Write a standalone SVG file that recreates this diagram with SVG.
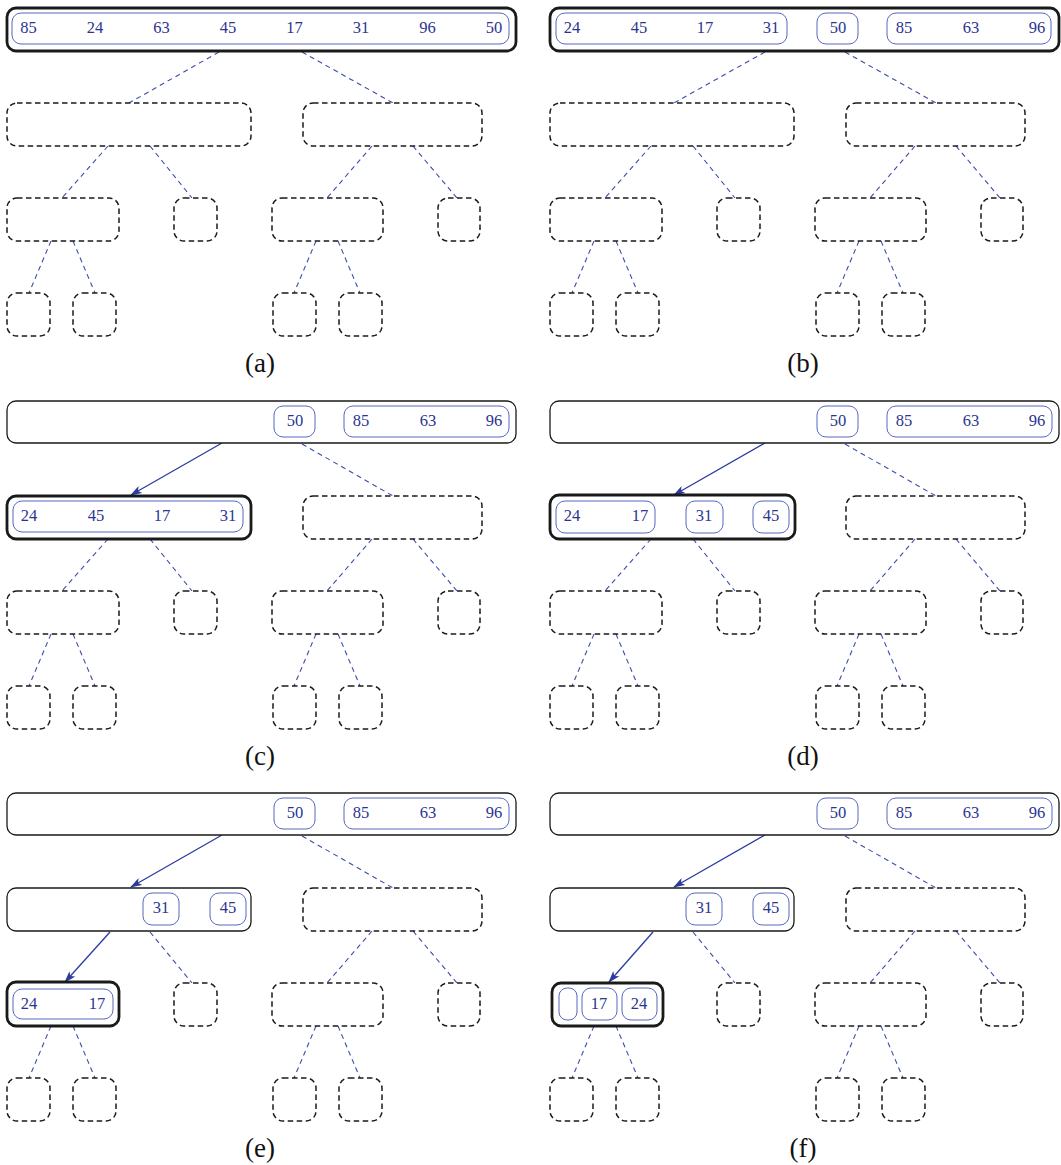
<svg xmlns="http://www.w3.org/2000/svg" width="1061" height="1165" viewBox="0 0 1061 1165">
<style>
.bg{fill:#fff}
.act{fill:#fff;stroke:#1a1a1a;stroke-width:2.8}
.done{fill:#fff;stroke:#1a1a1a;stroke-width:1.3}
.pend{fill:#fff;stroke:#1a1a1a;stroke-width:1.5;stroke-dasharray:5.5 3.5}
.grp{fill:none;stroke:#4455bb;stroke-width:0.9}
.num{font-family:'Liberation Serif','DejaVu Serif',serif;font-size:16.5px;fill:#2b3590;text-anchor:middle}
.lbl{font-family:'Liberation Serif','DejaVu Serif',serif;font-size:27px;fill:#111;text-anchor:middle}
.dl{stroke:#3b4cb0;stroke-width:1.1;stroke-dasharray:5 4;fill:none}
.al{stroke:#2b3a9e;stroke-width:1.3;fill:none;marker-end:url(#ah)}
</style>
<defs>
<marker id="ah" viewBox="0 0 12 8" refX="11" refY="4" markerWidth="12" markerHeight="8" markerUnits="userSpaceOnUse" orient="auto">
<path d="M0,0 L12,4 L0,8 L3,4 Z" fill="#2b3a9e"/>
</marker>
</defs>
<rect class="bg" x="0" y="0" width="1061" height="1165"/>

<!-- Panel (a) -->
<g id="panel-a" transform="translate(0,0)">
<g id="a-connectors">
<line class="dl" x1="219" y1="52" x2="129" y2="103"/>
<line class="dl" x1="302" y1="52" x2="393" y2="103"/>
<line class="dl" x1="108" y1="146" x2="62" y2="198"/>
<line class="dl" x1="150" y1="146" x2="192" y2="198"/>
<line class="dl" x1="372" y1="146" x2="327" y2="198"/>
<line class="dl" x1="413" y1="146" x2="457" y2="198"/>
<line class="dl" x1="51" y1="241" x2="29" y2="293"/>
<line class="dl" x1="73" y1="241" x2="95" y2="293"/>
<line class="dl" x1="316" y1="241" x2="294" y2="293"/>
<line class="dl" x1="338" y1="241" x2="360" y2="293"/>
</g>
<g id="a-root"><rect class="act" x="7" y="8" width="509" height="43" rx="9"/>
<rect class="grp" x="12" y="13" width="497" height="31" rx="9"/>
<text class="num" x="28.5" y="33">85</text><text class="num" x="95" y="33">24</text><text class="num" x="161.5" y="33">63</text><text class="num" x="228" y="33">45</text><text class="num" x="294.5" y="33">17</text><text class="num" x="361" y="33">31</text><text class="num" x="427.5" y="33">96</text><text class="num" x="494" y="33">50</text></g>
<g id="a-l1l"><rect class="pend" x="7" y="103" width="244" height="43" rx="10"/></g>
<g id="a-l1r"><rect class="pend" x="303" y="103" width="179" height="43" rx="10"/></g>
<g id="a-l2a"><rect class="pend" x="7" y="198" width="112" height="43" rx="10"/></g>
<g id="a-l2b"><rect class="pend" x="174" y="198" width="43" height="43" rx="10"/></g>
<g id="a-l2c"><rect class="pend" x="272" y="198" width="111" height="43" rx="10"/></g>
<g id="a-l2d"><rect class="pend" x="438" y="198" width="42" height="43" rx="10"/></g>
<g id="a-l3a"><rect class="pend" x="7" y="293" width="43" height="43" rx="10"/></g>
<g id="a-l3b"><rect class="pend" x="73" y="293" width="43" height="43" rx="10"/></g>
<g id="a-l3c"><rect class="pend" x="273" y="293" width="43" height="43" rx="10"/></g>
<g id="a-l3d"><rect class="pend" x="339" y="293" width="43" height="43" rx="10"/></g>
<text class="lbl" x="260" y="372">(a)</text>
</g>

<!-- Panel (b) -->
<g id="panel-b" transform="translate(543,0)">
<g id="b-connectors">
<line class="dl" x1="222" y1="52" x2="131" y2="103"/>
<line class="dl" x1="302" y1="52" x2="393" y2="103"/>
<line class="dl" x1="108" y1="146" x2="62" y2="198"/>
<line class="dl" x1="150" y1="146" x2="192" y2="198"/>
<line class="dl" x1="372" y1="146" x2="327" y2="198"/>
<line class="dl" x1="413" y1="146" x2="457" y2="198"/>
<line class="dl" x1="51" y1="241" x2="29" y2="293"/>
<line class="dl" x1="73" y1="241" x2="95" y2="293"/>
<line class="dl" x1="316" y1="241" x2="294" y2="293"/>
<line class="dl" x1="338" y1="241" x2="360" y2="293"/>
</g>
<g id="b-root"><rect class="act" x="7" y="8" width="509" height="43" rx="9"/>
<rect class="grp" x="13" y="13" width="231" height="31" rx="9"/>
<rect class="grp" x="274" y="13" width="41" height="31" rx="9"/>
<rect class="grp" x="344" y="13" width="164" height="31" rx="9"/>
<text class="num" x="29" y="33">24</text><text class="num" x="96" y="33">45</text><text class="num" x="162" y="33">17</text><text class="num" x="228" y="33">31</text><text class="num" x="295" y="33">50</text><text class="num" x="361" y="33">85</text><text class="num" x="428" y="33">63</text><text class="num" x="494" y="33">96</text></g>
<g id="b-l1l"><rect class="pend" x="7" y="103" width="244" height="43" rx="10"/></g>
<g id="b-l1r"><rect class="pend" x="303" y="103" width="179" height="43" rx="10"/></g>
<g id="b-l2a"><rect class="pend" x="7" y="198" width="112" height="43" rx="10"/></g>
<g id="b-l2b"><rect class="pend" x="174" y="198" width="43" height="43" rx="10"/></g>
<g id="b-l2c"><rect class="pend" x="272" y="198" width="111" height="43" rx="10"/></g>
<g id="b-l2d"><rect class="pend" x="438" y="198" width="42" height="43" rx="10"/></g>
<g id="b-l3a"><rect class="pend" x="7" y="293" width="43" height="43" rx="10"/></g>
<g id="b-l3b"><rect class="pend" x="73" y="293" width="43" height="43" rx="10"/></g>
<g id="b-l3c"><rect class="pend" x="273" y="293" width="43" height="43" rx="10"/></g>
<g id="b-l3d"><rect class="pend" x="339" y="293" width="43" height="43" rx="10"/></g>
<text class="lbl" x="260" y="372">(b)</text>
</g>

<!-- Panel (c) -->
<g id="panel-c" transform="translate(0,393)">
<g id="c-connectors">
<line class="al" x1="222" y1="50" x2="131" y2="102"/>
<line class="dl" x1="302" y1="51" x2="393" y2="103"/>
<line class="dl" x1="108" y1="146" x2="62" y2="198"/>
<line class="dl" x1="150" y1="146" x2="192" y2="198"/>
<line class="dl" x1="372" y1="146" x2="327" y2="198"/>
<line class="dl" x1="413" y1="146" x2="457" y2="198"/>
<line class="dl" x1="51" y1="241" x2="29" y2="293"/>
<line class="dl" x1="73" y1="241" x2="95" y2="293"/>
<line class="dl" x1="316" y1="241" x2="294" y2="293"/>
<line class="dl" x1="338" y1="241" x2="360" y2="293"/>
</g>
<g id="c-root"><rect class="done" x="7" y="8" width="509" height="42" rx="9"/>
<rect class="grp" x="274" y="13" width="41" height="31" rx="9"/>
<rect class="grp" x="344" y="13" width="165" height="31" rx="9"/>
<text class="num" x="295" y="33">50</text><text class="num" x="361" y="33">85</text><text class="num" x="428" y="33">63</text><text class="num" x="494" y="33">96</text></g>
<g id="c-l1l"><rect class="act" x="7" y="103" width="244" height="43" rx="9"/>
<rect class="grp" x="13" y="108" width="230" height="31" rx="9"/>
<text class="num" x="29" y="128">24</text><text class="num" x="96" y="128">45</text><text class="num" x="162" y="128">17</text><text class="num" x="228" y="128">31</text></g>
<g id="c-l1r"><rect class="pend" x="303" y="103" width="179" height="43" rx="10"/></g>
<g id="c-l2a"><rect class="pend" x="7" y="198" width="112" height="43" rx="10"/></g>
<g id="c-l2b"><rect class="pend" x="174" y="198" width="43" height="43" rx="10"/></g>
<g id="c-l2c"><rect class="pend" x="272" y="198" width="111" height="43" rx="10"/></g>
<g id="c-l2d"><rect class="pend" x="438" y="198" width="42" height="43" rx="10"/></g>
<g id="c-l3a"><rect class="pend" x="7" y="293" width="43" height="43" rx="10"/></g>
<g id="c-l3b"><rect class="pend" x="73" y="293" width="43" height="43" rx="10"/></g>
<g id="c-l3c"><rect class="pend" x="273" y="293" width="43" height="43" rx="10"/></g>
<g id="c-l3d"><rect class="pend" x="339" y="293" width="43" height="43" rx="10"/></g>
<text class="lbl" x="260" y="372">(c)</text>
</g>

<!-- Panel (d) -->
<g id="panel-d" transform="translate(543,393)">
<g id="d-connectors">
<line class="al" x1="222" y1="50" x2="131" y2="102"/>
<line class="dl" x1="302" y1="51" x2="393" y2="103"/>
<line class="dl" x1="108" y1="146" x2="62" y2="198"/>
<line class="dl" x1="150" y1="146" x2="192" y2="198"/>
<line class="dl" x1="372" y1="146" x2="327" y2="198"/>
<line class="dl" x1="413" y1="146" x2="457" y2="198"/>
<line class="dl" x1="51" y1="241" x2="29" y2="293"/>
<line class="dl" x1="73" y1="241" x2="95" y2="293"/>
<line class="dl" x1="316" y1="241" x2="294" y2="293"/>
<line class="dl" x1="338" y1="241" x2="360" y2="293"/>
</g>
<g id="d-root"><rect class="done" x="7" y="8" width="509" height="42" rx="9"/>
<rect class="grp" x="274" y="13" width="41" height="31" rx="9"/>
<rect class="grp" x="344" y="13" width="165" height="31" rx="9"/>
<text class="num" x="295" y="33">50</text><text class="num" x="361" y="33">85</text><text class="num" x="428" y="33">63</text><text class="num" x="494" y="33">96</text></g>
<g id="d-l1l"><rect class="act" x="7" y="102" width="245" height="44" rx="9"/>
<rect class="grp" x="13" y="108" width="99" height="32" rx="9"/>
<rect class="grp" x="143" y="108" width="37" height="32" rx="9"/>
<rect class="grp" x="210" y="108" width="36" height="32" rx="9"/>
<text class="num" x="29" y="128">24</text><text class="num" x="97" y="128">17</text><text class="num" x="161" y="128">31</text><text class="num" x="228" y="128">45</text></g>
<g id="d-l1r"><rect class="pend" x="303" y="103" width="179" height="43" rx="10"/></g>
<g id="d-l2a"><rect class="pend" x="7" y="198" width="112" height="43" rx="10"/></g>
<g id="d-l2b"><rect class="pend" x="174" y="198" width="43" height="43" rx="10"/></g>
<g id="d-l2c"><rect class="pend" x="272" y="198" width="111" height="43" rx="10"/></g>
<g id="d-l2d"><rect class="pend" x="438" y="198" width="42" height="43" rx="10"/></g>
<g id="d-l3a"><rect class="pend" x="7" y="293" width="43" height="43" rx="10"/></g>
<g id="d-l3b"><rect class="pend" x="73" y="293" width="43" height="43" rx="10"/></g>
<g id="d-l3c"><rect class="pend" x="273" y="293" width="43" height="43" rx="10"/></g>
<g id="d-l3d"><rect class="pend" x="339" y="293" width="43" height="43" rx="10"/></g>
<text class="lbl" x="260" y="372">(d)</text>
</g>

<!-- Panel (e) -->
<g id="panel-e" transform="translate(0,785)">
<g id="e-connectors">
<line class="al" x1="222" y1="50" x2="131" y2="102"/>
<line class="dl" x1="302" y1="51" x2="393" y2="103"/>
<line class="al" x1="110" y1="147" x2="65" y2="197"/>
<line class="dl" x1="150" y1="147" x2="192" y2="198"/>
<line class="dl" x1="372" y1="146" x2="327" y2="198"/>
<line class="dl" x1="413" y1="146" x2="457" y2="198"/>
<line class="dl" x1="51" y1="241" x2="29" y2="293"/>
<line class="dl" x1="73" y1="241" x2="95" y2="293"/>
<line class="dl" x1="316" y1="241" x2="294" y2="293"/>
<line class="dl" x1="338" y1="241" x2="360" y2="293"/>
</g>
<g id="e-root"><rect class="done" x="7" y="8" width="509" height="42" rx="9"/>
<rect class="grp" x="274" y="13" width="41" height="31" rx="9"/>
<rect class="grp" x="344" y="13" width="165" height="31" rx="9"/>
<text class="num" x="295" y="33">50</text><text class="num" x="361" y="33">85</text><text class="num" x="428" y="33">63</text><text class="num" x="494" y="33">96</text></g>
<g id="e-l1l"><rect class="done" x="7" y="103" width="244" height="43" rx="9"/>
<rect class="grp" x="143" y="108" width="36" height="32" rx="9"/>
<rect class="grp" x="210" y="108" width="36" height="32" rx="9"/>
<text class="num" x="161" y="128">31</text><text class="num" x="228" y="128">45</text></g>
<g id="e-l1r"><rect class="pend" x="303" y="103" width="179" height="43" rx="10"/></g>
<g id="e-l2a"><rect class="act" x="7" y="197" width="112" height="44" rx="9"/>
<rect class="grp" x="13" y="204" width="100" height="30" rx="9"/>
<text class="num" x="29" y="224">24</text><text class="num" x="97" y="224">17</text></g>
<g id="e-l2b"><rect class="pend" x="174" y="198" width="43" height="43" rx="10"/></g>
<g id="e-l2c"><rect class="pend" x="272" y="198" width="111" height="43" rx="10"/></g>
<g id="e-l2d"><rect class="pend" x="438" y="198" width="42" height="43" rx="10"/></g>
<g id="e-l3a"><rect class="pend" x="7" y="293" width="43" height="43" rx="10"/></g>
<g id="e-l3b"><rect class="pend" x="73" y="293" width="43" height="43" rx="10"/></g>
<g id="e-l3c"><rect class="pend" x="273" y="293" width="43" height="43" rx="10"/></g>
<g id="e-l3d"><rect class="pend" x="339" y="293" width="43" height="43" rx="10"/></g>
<text class="lbl" x="260" y="372">(e)</text>
</g>

<!-- Panel (f) -->
<g id="panel-f" transform="translate(543,785)">
<g id="f-connectors">
<line class="al" x1="222" y1="50" x2="131" y2="102"/>
<line class="dl" x1="302" y1="51" x2="393" y2="103"/>
<line class="al" x1="110" y1="147" x2="66" y2="197"/>
<line class="dl" x1="150" y1="147" x2="192" y2="198"/>
<line class="dl" x1="372" y1="146" x2="327" y2="198"/>
<line class="dl" x1="413" y1="146" x2="457" y2="198"/>
<line class="dl" x1="51" y1="241" x2="29" y2="293"/>
<line class="dl" x1="73" y1="241" x2="95" y2="293"/>
<line class="dl" x1="316" y1="241" x2="294" y2="293"/>
<line class="dl" x1="338" y1="241" x2="360" y2="293"/>
</g>
<g id="f-root"><rect class="done" x="7" y="8" width="509" height="42" rx="9"/>
<rect class="grp" x="274" y="13" width="41" height="31" rx="9"/>
<rect class="grp" x="344" y="13" width="165" height="31" rx="9"/>
<text class="num" x="295" y="33">50</text><text class="num" x="361" y="33">85</text><text class="num" x="428" y="33">63</text><text class="num" x="494" y="33">96</text></g>
<g id="f-l1l"><rect class="done" x="7" y="103" width="244" height="43" rx="9"/>
<rect class="grp" x="143" y="108" width="36" height="32" rx="9"/>
<rect class="grp" x="210" y="108" width="36" height="32" rx="9"/>
<text class="num" x="161" y="128">31</text><text class="num" x="228" y="128">45</text></g>
<g id="f-l1r"><rect class="pend" x="303" y="103" width="179" height="43" rx="10"/></g>
<g id="f-l2a"><rect class="act" x="9" y="198" width="111" height="43" rx="9"/>
<rect class="grp" x="16" y="203" width="18" height="32" rx="8"/>
<rect class="grp" x="39" y="203" width="35" height="32" rx="9"/>
<rect class="grp" x="79" y="203" width="35" height="32" rx="9"/>
<text class="num" x="56" y="224">17</text><text class="num" x="96" y="224">24</text></g>
<g id="f-l2b"><rect class="pend" x="174" y="198" width="43" height="43" rx="10"/></g>
<g id="f-l2c"><rect class="pend" x="272" y="198" width="111" height="43" rx="10"/></g>
<g id="f-l2d"><rect class="pend" x="438" y="198" width="42" height="43" rx="10"/></g>
<g id="f-l3a"><rect class="pend" x="7" y="293" width="43" height="43" rx="10"/></g>
<g id="f-l3b"><rect class="pend" x="73" y="293" width="43" height="43" rx="10"/></g>
<g id="f-l3c"><rect class="pend" x="273" y="293" width="43" height="43" rx="10"/></g>
<g id="f-l3d"><rect class="pend" x="339" y="293" width="43" height="43" rx="10"/></g>
<text class="lbl" x="260" y="372">(f)</text>
</g>
</svg>
